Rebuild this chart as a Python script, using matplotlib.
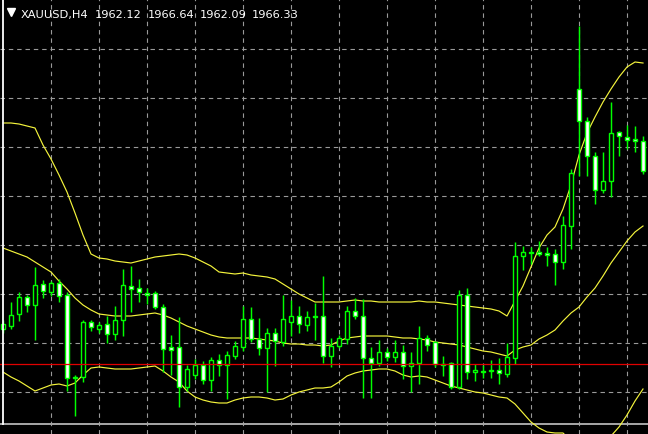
import matplotlib
matplotlib.use("Agg")
import matplotlib.pyplot as plt
from matplotlib.patches import Rectangle
from matplotlib.lines import Line2D

# ---------------- data ----------------
symbol = "XAUUSD,H4"
header_values = ["1962.12", "1966.64", "1962.09", "1966.33"]

opens = [1947.0, 1947.3, 1948.5, 1950.2, 1949.4, 1951.5, 1950.7, 1951.6, 1950.4, 1942.1,
         1942.2, 1947.7, 1947.0, 1947.5, 1946.5, 1947.9, 1951.3, 1951.1, 1950.6, 1950.6,
         1949.2, 1945.2, 1945.2, 1941.2, 1942.4, 1943.4, 1941.9, 1943.9, 1943.4, 1944.3,
         1945.2, 1948.0, 1946.0, 1945.1, 1946.6, 1945.7, 1947.7, 1948.3, 1947.4, 1948.2,
         1948.3, 1944.3, 1945.3, 1946.0, 1948.8, 1948.3, 1944.1, 1943.6, 1944.7, 1944.2,
         1944.7, 1943.3, 1943.6, 1946.1, 1945.7, 1943.5, 1943.6, 1941.2, 1950.4, 1942.7,
         1942.8, 1942.8, 1942.9, 1942.5, 1944.1, 1954.3, 1954.7, 1954.7, 1954.6, 1954.5,
         1953.7, 1957.3, 1971.0, 1967.8, 1964.3, 1960.9, 1961.8, 1966.7, 1966.2, 1966.0,
         1965.8]
highs = [1947.9, 1949.7, 1950.7, 1950.4, 1953.2, 1951.9, 1951.8, 1952.0, 1950.7, 1942.4,
         1947.9, 1947.9, 1947.7, 1948.3, 1949.3, 1953.0, 1953.3, 1952.0, 1951.1, 1950.8,
         1949.5, 1946.4, 1948.2, 1943.4, 1944.0, 1943.8, 1944.2, 1944.5, 1944.8, 1945.8,
         1949.3, 1949.2, 1948.1, 1947.1, 1947.1, 1950.4, 1949.9, 1949.3, 1948.8, 1949.6,
         1952.3, 1946.1, 1946.4, 1949.3, 1950.1, 1950.0, 1945.2, 1945.9, 1945.1, 1945.9,
         1945.4, 1944.7, 1947.3, 1946.4, 1945.8, 1944.3, 1943.7, 1950.9, 1951.1, 1943.5,
         1943.4, 1943.9, 1944.1, 1945.6, 1955.7, 1955.3, 1955.2, 1955.8, 1955.2, 1955.0,
         1958.3, 1963.0, 1977.3, 1968.2, 1964.7, 1964.7, 1969.7, 1966.8, 1967.4, 1967.3,
         1966.3]
lows = [1946.6, 1947.0, 1947.8, 1948.7, 1945.9, 1950.1, 1950.3, 1949.7, 1940.8, 1938.3,
        1941.7, 1946.8, 1946.6, 1945.6, 1945.9, 1946.3, 1948.7, 1949.7, 1949.5, 1949.0,
        1942.7, 1942.4, 1939.2, 1940.8, 1942.0, 1941.5, 1940.8, 1942.3, 1940.0, 1944.0,
        1944.8, 1945.7, 1944.4, 1940.7, 1943.3, 1945.3, 1946.3, 1946.6, 1946.8, 1945.9,
        1943.6, 1943.2, 1945.1, 1945.5, 1948.0, 1940.1, 1940.1, 1943.3, 1943.8, 1943.7,
        1942.0, 1940.7, 1941.5, 1944.8, 1943.2, 1942.3, 1941.0, 1941.0, 1942.0, 1941.8,
        1942.1, 1942.1, 1941.5, 1942.2, 1943.5, 1952.9, 1953.5, 1954.3, 1953.3, 1951.4,
        1953.0, 1955.0, 1962.3, 1962.3, 1959.5, 1960.6, 1960.2, 1964.3, 1965.0, 1964.7,
        1962.5]
closes = [1947.5, 1948.4, 1950.2, 1949.4, 1951.4, 1950.8, 1951.6, 1950.3, 1942.1, 1942.2,
          1947.7, 1947.2, 1947.4, 1946.5, 1947.9, 1951.4, 1951.0, 1950.7, 1950.4, 1949.2,
          1945.0, 1944.9, 1941.2, 1943.0, 1943.4, 1941.9, 1943.9, 1943.4, 1944.4, 1945.3,
          1948.0, 1946.0, 1945.1, 1946.6, 1945.8, 1948.0, 1948.3, 1947.5, 1948.2, 1948.3,
          1944.3, 1945.3, 1946.1, 1948.8, 1948.3, 1944.1, 1943.6, 1944.7, 1944.2, 1944.7,
          1943.3, 1943.6, 1946.1, 1945.4, 1943.5, 1943.45, 1941.2, 1950.4, 1942.7, 1942.9,
          1942.75, 1942.8, 1942.6, 1944.2, 1954.3, 1954.7, 1954.65, 1954.5, 1954.45, 1953.7,
          1957.4, 1962.6, 1967.8, 1964.3, 1960.9, 1961.8, 1966.6, 1966.3, 1965.95, 1965.8,
          1962.8]

bb_upper = [1967.6, 1967.6, 1967.5, 1967.3, 1967.1, 1965.4, 1964.0, 1962.4, 1960.7, 1958.6,
            1956.4, 1954.5, 1954.1, 1954.0, 1953.8, 1953.7, 1953.6, 1953.8, 1954.0, 1954.2,
            1954.3, 1954.4, 1954.5, 1954.4, 1954.1, 1953.7, 1953.3, 1952.7, 1952.6, 1952.5,
            1952.6, 1952.4, 1952.3, 1952.2, 1952.0, 1951.5, 1951.0, 1950.5, 1950.1, 1949.7,
            1949.7, 1949.7, 1949.7, 1949.8, 1949.9, 1949.8, 1949.8, 1949.7, 1949.7, 1949.7,
            1949.7, 1949.7, 1949.8, 1949.7, 1949.7, 1949.6, 1949.5, 1949.4, 1949.3, 1949.2,
            1949.1, 1949.0, 1948.8, 1948.3, 1949.8, 1951.3, 1953.2, 1955.1, 1956.4, 1957.2,
            1959.0, 1961.4, 1964.4, 1966.6, 1968.2, 1969.7, 1971.0, 1972.2, 1973.2, 1973.7,
            1973.6]
bb_middle = [1955.1, 1954.8, 1954.5, 1954.2, 1953.7, 1953.2, 1952.7, 1951.8, 1951.0, 1950.1,
             1949.4, 1948.9, 1948.5, 1948.4, 1948.3, 1948.3, 1948.3, 1948.4, 1948.5, 1948.6,
             1948.4, 1948.1, 1947.7, 1947.3, 1947.0, 1946.7, 1946.4, 1946.2, 1946.1, 1946.1,
             1946.1, 1946.1, 1946.0, 1945.9, 1945.8, 1945.6, 1945.5, 1945.5, 1945.4, 1945.4,
             1945.3, 1945.4, 1945.8, 1946.1, 1946.2, 1946.3, 1946.3, 1946.3, 1946.3, 1946.2,
             1946.1, 1946.1, 1946.0, 1945.9, 1945.7, 1945.6, 1945.5, 1945.4, 1945.2, 1945.0,
             1944.8, 1944.7, 1944.5, 1944.3, 1944.9, 1945.2, 1945.4, 1946.0, 1946.4, 1946.9,
             1947.8, 1948.6, 1949.2, 1950.2, 1951.1, 1952.3, 1953.6, 1954.7, 1955.8, 1956.7,
             1957.3]
bb_lower = [1942.7, 1942.2, 1941.8, 1941.3, 1940.8, 1941.1, 1941.4, 1941.5, 1941.3, 1941.6,
            1942.4, 1943.1, 1943.2, 1943.1, 1943.0, 1943.0, 1943.0, 1943.1, 1943.2, 1943.3,
            1942.8, 1942.2, 1941.7, 1940.8, 1940.2, 1939.9, 1939.7, 1939.6, 1939.6, 1939.9,
            1940.1, 1940.2, 1940.2, 1940.1, 1939.9, 1940.0, 1940.4, 1940.7, 1940.9, 1941.1,
            1941.1, 1941.2, 1941.7, 1942.3, 1942.6, 1942.8, 1942.9, 1943.0, 1943.0, 1942.8,
            1942.4, 1942.2, 1942.3, 1942.2, 1941.9, 1941.6, 1941.3, 1941.1, 1940.9, 1940.7,
            1940.6, 1940.4, 1940.2, 1940.1, 1939.5, 1938.6, 1937.7, 1937.1, 1936.7, 1936.6,
            1936.6, 1935.8, 1934.2, 1933.8, 1934.2, 1935.0, 1936.3, 1937.2, 1938.4, 1939.8,
            1941.0]

red_level = 1943.5
gray_level = 1937.5
grid_prices = [1975.0, 1970.1, 1965.2, 1960.3, 1955.4, 1950.5, 1945.6, 1940.7]
grid_bars = list(range(6, 81, 6))

# ---------------- style ----------------
W, H = 648, 435
GREEN = "#00ff00"
BAND = "#f4f43c"
GRID = "#9a9a9a"

fig = plt.figure(figsize=(W / 100, H / 100), dpi=100, facecolor="black")
ax = fig.add_axes([0, 0, 1, 1])
ax.set_facecolor("black")
ax.set_xlim(-0.375, 80.625)
ax.set_ylim(1936.5, 1980.0)
ax.axis("off")

for p in grid_prices:
    ax.axhline(p, color=GRID, lw=0.8, ls=(0, (4, 3.5)), zorder=1)
for b in grid_bars:
    ax.axvline(b, color=GRID, lw=0.8, ls=(0, (4, 3.5)), zorder=1)

ax.axhline(gray_level, color="#a8a8a8", lw=1.4, zorder=1.5)

x = list(range(len(opens)))
for series in (bb_upper, bb_middle, bb_lower):
    ax.plot(x, series, color=BAND, lw=0.85, zorder=2)

for i, (o, h, l, c) in enumerate(zip(opens, highs, lows, closes)):
    ax.vlines(i, l, h, color=GREEN, lw=1.05, zorder=3)
    bottom = min(o, c)
    height = max(abs(c - o), 0.06)
    face = "white" if c < o else "black"
    ax.add_patch(Rectangle((i - 0.28, bottom), 0.56, height, facecolor=face,
                           edgecolor=GREEN, lw=1.0, zorder=4))

ax.axhline(red_level, color="#e00000", lw=0.9, zorder=5)

# frame line on the left
fig.add_artist(Line2D([2.5 / W, 2.5 / W], [10 / H, 1.0], color="white", lw=1.3))

# header
ax.plot([10.5 / W], [1 - 12.5 / H], marker="v", ms=5.2, color="white",
        transform=fig.transFigure, zorder=10, clip_on=False)
fig.text(21 / W, 1 - 18 / H, symbol, color="white", fontsize=8.2,
         family="DejaVu Sans", va="baseline", ha="left")
for xpos, val in zip([95, 148, 200, 252], header_values):
    fig.text(xpos / W, 1 - 18 / H, val, color="white", fontsize=8.2,
             family="DejaVu Sans", va="baseline", ha="left")

fig.savefig("out.png", dpi=100, facecolor="black")
